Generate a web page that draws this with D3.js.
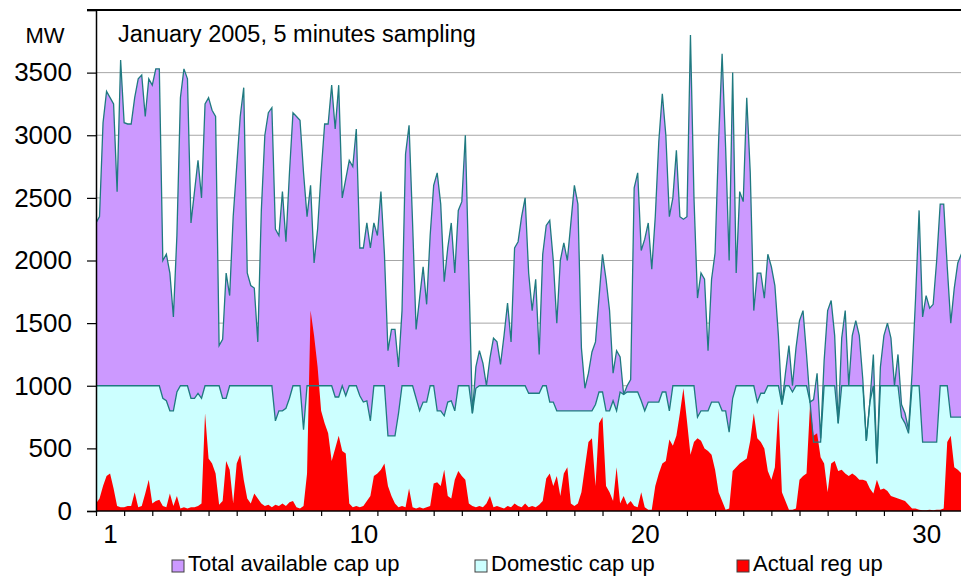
<!DOCTYPE html>
<html>
<head>
<meta charset="utf-8">
<script src="https://cdn.jsdelivr.net/npm/d3@7"></script>
<style>
  body { margin: 0; background: #fff; }
  svg { display: block; font-family: "Liberation Sans", Arial, sans-serif; }
</style>
</head>
<body>
<svg id="chart" width="961" height="577"></svg>
<script>
// Regulation capacity, January 2005. One value every 3 hours (8 per day), day 1 00:00 to day 32 00:00.
const sampleHours = 3;

// Total available capacity up (MW)
const totalCapUp = [
  2300, 2350, 3100, 3350, 3300, 3250, 2550, 3600,   // 1
  3100, 3090, 3090, 3300, 3450, 3480, 3150, 3450,   // 2
  3400, 3530, 3530, 2000, 2050, 1900, 1550, 2200,   // 3
  3300, 3530, 3450, 2300, 2550, 2800, 2500, 3250,   // 4
  3300, 3200, 3150, 1320, 1370, 1900, 1720, 2350,   // 5
  2750, 3150, 3380, 1900, 1800, 1780, 1350, 2400,   // 6
  3000, 3180, 3220, 2250, 2200, 2550, 2150, 2700,   // 7
  3180, 3150, 3120, 2700, 2350, 2600, 1980, 2250,   // 8
  2700, 3090, 3090, 3400, 3050, 3400, 2500, 2650,   // 9
  2800, 2750, 3050, 2100, 2100, 2300, 2100, 2300,   // 10
  2200, 2550, 2050, 1280, 1450, 1450, 1150, 1600,   // 11
  2850, 3080, 2300, 1450, 1700, 1950, 1650, 2200,   // 12
  2600, 2700, 2450, 1830, 2100, 2300, 1900, 2400,   // 13
  2470, 3000, 1900,  780, 1150, 1280, 1180, 1000,   // 14
  1220, 1380, 1350, 1170, 1400, 1660, 1350, 2100,   // 15
  2150, 2350, 2500, 1900, 1600, 1850, 1250, 2050,   // 16
  2280, 2320, 2000, 1500, 2000, 2140, 2000, 2300,   // 17
  2600, 2450, 1300,  980, 1100, 1270, 1350, 1700,   // 18
  2050, 1850, 1600, 1100, 1280, 1230,  930, 1000,   // 19
  1050, 2580, 2700, 2080, 2170, 2300, 1930, 2350,   // 20
  2950, 3330, 3000, 2350, 2500, 2880, 2350, 2330,   // 21
  2350, 3800, 2500, 1700, 1900, 1850, 1280, 1850,   // 22
  2060, 2950, 3650, 2900, 2000, 3500, 1900, 2550,   // 23
  2470, 3300, 2700, 1600, 1900, 1900, 1700, 2050,   // 24
  1950, 1800, 1400,  850, 1100, 1320, 1000, 1300,   // 25
  1520, 1600, 1250,  870,  890, 1100,  580, 1200,   // 26
  1600, 1680, 1400,  700, 1380, 1600, 1000, 1400,   // 27
  1520, 1400, 1050,  560,  870, 1250,  380, 1150,   // 28
  1400, 1500, 1380, 1000, 1250,  850,  780,  650,   // 29
  1100, 1700, 2400, 1550, 1720, 1620, 1650, 2000,   // 30
  2450, 2450, 1950, 1500, 1780, 1980, 2050, 1900,   // 31
  1900
];

// Domestic capacity up (MW)
const domesticCapUp = [
  1000, 1000, 1000, 1000, 1000, 1000, 1000, 1000,   // 1
  1000, 1000, 1000, 1000, 1000, 1000, 1000, 1000,   // 2
  1000, 1000, 1000,  900,  880,  800,  800,  950,   // 3
  1000, 1000, 1000,  900,  900,  940,  900, 1000,   // 4
  1000, 1000, 1000, 1000,  900,  900, 1000, 1000,   // 5
  1000, 1000, 1000, 1000, 1000, 1000, 1000, 1000,   // 6
  1000, 1000, 1000,  720,  800,  800,  820,  900,   // 7
  1000, 1000, 1000,  650, 1000, 1000, 1000, 1000,   // 8
  1000, 1000, 1000, 1000,  910,  910, 1000,  920,   // 9
  1000, 1000, 1000,  920,  870,  880,  720, 1000,   // 10
  1000, 1000, 1000,  600,  600,  600,  780, 1000,   // 11
  1000, 1000, 1000,  900,  800,  870,  870, 1000,   // 12
  1000,  800,  800,  760,  870,  880,  800, 1000,   // 13
  1000, 1000, 1000,  780,  980, 1000, 1000, 1000,   // 14
  1000, 1000, 1000, 1000, 1000, 1000, 1000, 1000,   // 15
  1000, 1000, 1000,  940,  940,  940,  940, 1000,   // 16
  1000,  870,  870,  800,  800,  800,  800,  800,   // 17
   800,  800,  800,  800,  800,  800,  850,  950,   // 18
   950,  800,  800,  880,  800,  950,  930,  950,   // 19
   950,  950,  950,  880,  800,  870,  870,  870,   // 20
   870,  950,  950,  800, 1000, 1000, 1000, 1000,   // 21
  1000, 1000, 1000,  750,  800,  800,  800,  870,   // 22
   870,  870,  800,  800,  630,  900, 1000, 1000,   // 23
  1000, 1000, 1000, 1000,  870,  940,  940, 1000,   // 24
  1000, 1000, 1000,  850, 1000, 1000,  950, 1000,   // 25
  1000, 1000, 1000,  870,  550,  550,  550, 1000,   // 26
  1000, 1000, 1000,  700, 1000, 1000, 1000, 1000,   // 27
  1000, 1000, 1000,  560,  870, 1000,  380, 1000,   // 28
  1000, 1000, 1000, 1000, 1000,  750,  700,  620,   // 29
  1000, 1000, 1000,  550,  550,  550,  550,  550,   // 30
  1000, 1000, 1000,  750,  750,  750,  750,  750,   // 31
  750
];

// Actual regulation up (MW)
const actualRegUp = [
    60,  100,  200,  280,  300,  180,   40,   30,   // 1
    30,   40,   40,  150,   30,   40,  140,  250,   // 2
    60,   80,   90,   40,   30,  140,   40,  120,   // 3
    20,   30,   20,   30,   30,   40,   60,  780,   // 4
   420,  380,  300,   50,   80,  400,  330,   60,   // 5
   380,  450,  250,  100,   60,  140,  100,   60,   // 6
    40,   50,   30,   50,   40,   60,   40,   70,   // 7
    80,   30,   20,   40,  300, 1600, 1400, 1150,   // 8
   800,  700,  620,  400,  500,  600,  480,  460,   // 9
    60,   30,   40,   30,   40,   80,  120,  280,   // 10
   300,  330,  380,  200,  120,   60,   30,   40,   // 11
    30,  180,   30,   20,   30,   20,   30,   40,   // 12
   220,  230,  200,  330,  120,  100,  250,  320,   // 13
   280,  250,   60,   40,   30,   40,   30,   60,   // 14
   120,   30,   40,   30,   20,   40,   30,   60,   // 15
    40,   30,   60,   30,   40,   30,   50,   80,   // 16
   260,  300,  200,  280,  120,  300,  350,   60,   // 17
    40,   60,  150,  350,  550,  580,  200,  700,   // 18
   750,  200,  150,   80,  350,   60,  120,   50,   // 19
    80,   40,   30,  150,   30,   10,   10,  200,   // 20
   300,  380,  400,  570,  520,  600,  780,  980,   // 21
   720,  450,  550,  580,  560,  500,  480,  450,   // 22
   330,  150,   80,   10,   20,  320,  350,  380,   // 23
   400,  420,  560,  780,  580,  550,  500,  320,   // 24
   250,  350,  820,  150,   80,   10,   10,   20,   // 25
   250,  280,  300,  850,  600,  620,  430,  380,   // 26
   150,  380,  400,  320,  330,  300,  280,  300,   // 27
   280,  250,  250,  240,  180,  140,  250,  170,   // 28
   180,  160,  120,  110,  100,   90,   80,   50,   // 29
    20,   20,   10,    5,    5,   10,    5,   10,   // 30
    10,   20,  550,  600,  350,  330,  300,  250,   // 31
   250
];

const dayLabels = [1, 10, 20, 30];
const yTicks = [0, 500, 1000, 1500, 2000, 2500, 3000, 3500, 4000];
const seriesNames = ["Total available cap up", "Domestic cap up", "Actual reg up"];

// ---- layout ----
const W = 961, H = 577;
const plotLeft = 96, plotTop = 10, plotBottom = 511;
const dayWidth = 28.14;

const x = d3.scaleLinear().domain([0, 31]).range([plotLeft, plotLeft + 31 * dayWidth]);
const y = d3.scaleLinear().domain([0, 4000]).range([plotBottom, plotTop]);

const svg = d3.select("#chart");

svg.append("defs").append("clipPath").attr("id", "plotClip")
  .append("rect").attr("x", plotLeft).attr("y", plotTop)
  .attr("width", W - plotLeft).attr("height", plotBottom - plotTop);

// horizontal gridlines
svg.append("g").selectAll("line")
  .data(yTicks.filter(v => v > 0 && v < 4000))
  .join("line")
  .attr("x1", plotLeft).attr("x2", W)
  .attr("y1", d => y(d)).attr("y2", d => y(d))
  .attr("stroke", "#a6a6a6").attr("stroke-width", 1);

const rows = totalCapUp.map((v, i) => ({
  t: i * sampleHours / 24,
  total: v,
  domestic: domesticCapUp[i],
  reg: actualRegUp[i]
}));

const plot = svg.append("g").attr("clip-path", "url(#plotClip)");

const areaOf = key => d3.area().x(d => x(d.t)).y0(y(0)).y1(d => y(d[key]));
const lineOf = key => d3.line().x(d => x(d.t)).y(d => y(d[key]));

plot.append("path").datum(rows).attr("d", areaOf("total")).attr("fill", "#cc99ff");
plot.append("path").datum(rows).attr("d", areaOf("domestic")).attr("fill", "#ccffff");
plot.append("path").datum(rows).attr("d", areaOf("reg")).attr("fill", "#ff0000");
plot.append("path").datum(rows).attr("d", lineOf("domestic"))
  .attr("fill", "none").attr("stroke", "#1f7a80").attr("stroke-width", 1.3);
plot.append("path").datum(rows).attr("d", lineOf("total"))
  .attr("fill", "none").attr("stroke", "#1f7a80").attr("stroke-width", 1.3);

// top frame line
svg.append("line").attr("x1", plotLeft - 9).attr("x2", W)
  .attr("y1", y(4000)).attr("y2", y(4000))
  .attr("stroke", "#000").attr("stroke-width", 2);

// y axis
const yAxis = d3.axisLeft(y).tickValues(yTicks).tickSize(9).tickPadding(15)
  .tickFormat(d => d === 4000 ? "" : d);
const gy = svg.append("g").attr("transform", `translate(${plotLeft},0)`).call(yAxis);
gy.select(".domain").attr("stroke", "#000").attr("stroke-width", 1.5);
gy.selectAll(".tick line").attr("stroke", "#000").attr("stroke-width", 1.2);
gy.selectAll(".tick text").attr("font-size", 26).attr("fill", "#000")
  .attr("font-family", "Liberation Sans, Arial, sans-serif");

// x axis: one tick per day
const xTickAxis = d3.axisBottom(x).tickValues(d3.range(0, 32)).tickSize(5).tickFormat("");
const gx = svg.append("g").attr("transform", `translate(0,${plotBottom})`).call(xTickAxis);
gx.select(".domain").attr("stroke", "#000").attr("stroke-width", 1.5).attr("d", `M${plotLeft},0H${W}`);
gx.selectAll(".tick line").attr("stroke", "#000").attr("stroke-width", 1.2);

// day labels centred within their day
const xLabelAxis = d3.axisBottom(x).tickValues(dayLabels.map(d => d - 0.5)).tickSize(0).tickPadding(14)
  .tickFormat(d => d + 0.5);
const gxl = svg.append("g").attr("transform", `translate(0,${plotBottom})`).call(xLabelAxis);
gxl.select(".domain").remove();
gxl.selectAll(".tick text").attr("font-size", 26).attr("fill", "#000")
  .attr("font-family", "Liberation Sans, Arial, sans-serif");

// unit and title
svg.append("text").attr("x", 45).attr("y", 43).attr("text-anchor", "middle")
  .attr("font-size", 22).text("MW");
svg.append("text").attr("x", 118).attr("y", 42)
  .attr("font-size", 23.5).text("January 2005, 5 minutes sampling");

// legend
const legendColors = ["#cc99ff", "#ccffff", "#ff0000"];
const legendX = [172, 475, 737];
const lg = svg.append("g").selectAll("g").data(seriesNames).join("g")
  .attr("transform", (d, i) => `translate(${legendX[i]},0)`);
lg.append("rect").attr("x", 0).attr("y", 560).attr("width", 12).attr("height", 12)
  .attr("fill", (d, i) => legendColors[i]).attr("stroke", "#404040").attr("stroke-width", 1);
lg.append("text").attr("x", 16).attr("y", 571).attr("font-size", 22).text(d => d);
</script>
</body>
</html>
